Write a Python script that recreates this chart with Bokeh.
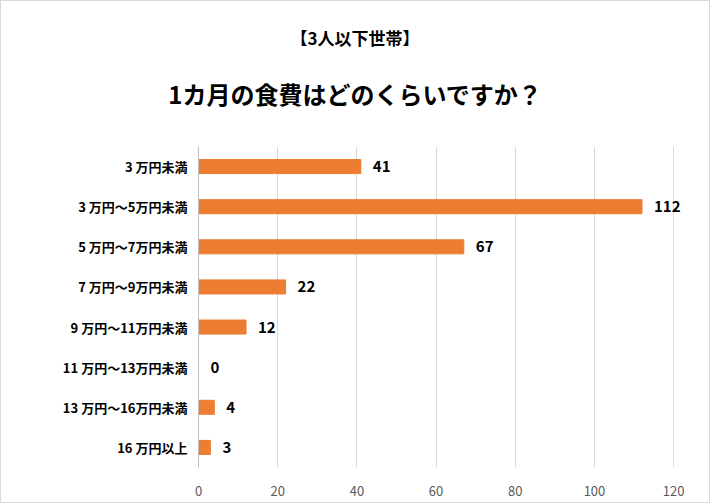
from bokeh.plotting import figure
from bokeh.models import ColumnDataSource, FixedTicker, Div
from bokeh.layouts import column
from bokeh.embed import file_html
from bokeh.resources import INLINE
from bokeh.core.properties import value

labels = ["3 万円未満","3 万円～5万円未満","5 万円～7万円未満","7 万円～9万円未満","9 万円～11万円未満","11 万円～13万円未満","13 万円～16万円未満","16 万円以上"]
vals = [41,112,67,22,12,0,4,3]
ticks = [0,20,40,60,80,100,120]
title1 = "【3人以下世帯】"
title2 = "1カ月の食費はどのくらいですか？"

F = "Noto Sans CJK JP"
p = figure(width=698, height=389, output_backend="svg", toolbar_location=None,
           y_range=list(reversed(labels)), x_range=(0,124),
           min_border_left=197, min_border_right=10, min_border_top=33, min_border_bottom=35)
p.outline_line_color = None
src = ColumnDataSource(dict(y=labels, v=vals, t=[str(v) for v in vals]))
p.hbar(y="y", right="v", left=0, height=0.35, color="#ED7D31", source=src)
p.text(x="v", y="y", text="t", source=src, x_offset=12, text_baseline="middle",
       text_font=value(F), text_font_size="15px", text_font_style="bold", text_color="#000000")
p.xaxis.ticker = FixedTicker(ticks=ticks)
p.xaxis.axis_line_color = None
p.xaxis.major_tick_line_color = None
p.xaxis.minor_tick_line_color = None
p.xaxis.major_label_standoff = 12
p.xaxis.major_label_text_font = F
p.xaxis.major_label_text_font_size = "13px"
p.xaxis.major_label_text_color = "#595959"
p.yaxis.axis_line_color = "#bfbfbf"
p.yaxis.major_tick_line_color = None
p.yaxis.minor_tick_line_color = None
p.yaxis.major_label_text_font = F
p.yaxis.major_label_text_font_size = "13px"
p.yaxis.major_label_text_font_style = "bold"
p.yaxis.major_label_text_color = "#000000"
p.ygrid.grid_line_color = None
p.xgrid.grid_line_color = "#d9d9d9"

d1 = Div(text=f"<div style='width:698px;text-align:center;line-height:64px;font-family:\"{F}\";font-size:17px;font-weight:bold;color:#000'>{title1}</div>",
         width=698, height=64)
d2 = Div(text=f"<div style='width:698px;text-align:center;line-height:28px;font-family:\"{F}\";font-size:24px;font-weight:bold;color:#000'>{title2}</div>",
         width=698, height=28)
lay = column(d1, d2, p, spacing=0)
lay.styles = {"border": "1px solid #d9d9d9"}
open("out.html", "w").write(file_html(lay, INLINE))
